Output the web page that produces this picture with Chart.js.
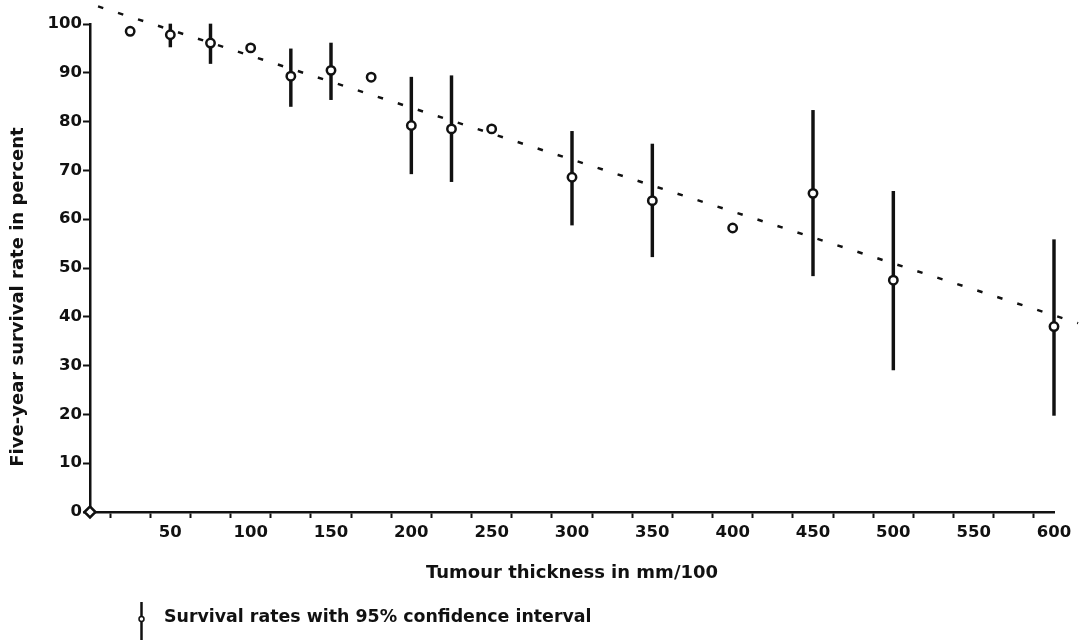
<!DOCTYPE html>
<html>
<head>
<meta charset="utf-8">
<script src="https://cdn.jsdelivr.net/npm/chart.js@4.4.0/dist/chart.umd.min.js"></script>
<style>
  html, body { margin: 0; padding: 0; background: #fff; }
</style>
</head>
<body>
<canvas id="survivalChart" width="1085" height="642"></canvas>
<script>
// values
const thickness = [0, 25, 50, 75, 100, 125, 150, 175, 200, 225, 250, 300, 350, 400, 450, 500, 600];
const survival = [0, 98.5, 97.8, 96.1, 95.1, 89.3, 90.5, 89.1, 79.2, 78.5, 78.5, 68.6, 63.8, 58.2, 65.3, 47.5, 38.0];
const ciLow = [null, null, 95.3, 91.9, null, 83.1, 84.5, null, 69.3, 67.7, null, 58.8, 52.3, null, 48.4, 29.1, 19.8];
const ciHigh = [null, null, 100.0, 100.0, null, 94.9, 96.1, null, 89.1, 89.4, null, 78.0, 75.4, null, 82.3, 65.7, 55.8];

// dashed regression line end points
const trendX = [5, 615];
const trendY = [103.6, 38.7];

const xLabelEvery = 50;
const xTitle = 'Tumour thickness in mm/100';
const yTitle = 'Five-year survival rate in percent';
const legendText = 'Survival rates with 95% confidence interval';

const ink = '#111';
const fontFamily = '"DejaVu Sans", sans-serif';

const pointData = thickness.map((x, i) => ({ x, y: survival[i] }));
const ciData = thickness
  .map((x, i) => ({ x, y: [ciLow[i], ciHigh[i]] }))
  .filter((item) => item.y[0] !== null);
const trendData = trendX.map((x, i) => ({ x, y: trendY[i] }));

// y-axis title and the legend below the axis
const extraText = {
  id: 'extraText',
  afterDraw(chart) {
    const ctx = chart.ctx;
    ctx.save();
    ctx.fillStyle = ink;
    ctx.font = 'bold 18px ' + fontFamily;
    ctx.textAlign = 'center';
    ctx.textBaseline = 'middle';
    ctx.translate(18, 297);
    ctx.rotate(-Math.PI / 2);
    ctx.fillText(yTitle, 0, 0);
    ctx.restore();

    ctx.save();
    ctx.strokeStyle = ink;
    ctx.lineWidth = 2.5;
    ctx.beginPath();
    ctx.moveTo(141.5, 602);
    ctx.lineTo(141.5, 640);
    ctx.stroke();
    ctx.fillStyle = '#fff';
    ctx.lineWidth = 1.5;
    ctx.beginPath();
    ctx.arc(141.5, 619, 2.5, 0, Math.PI * 2);
    ctx.fill();
    ctx.stroke();
    ctx.fillStyle = ink;
    ctx.font = 'bold 17.4px ' + fontFamily;
    ctx.textAlign = 'left';
    ctx.textBaseline = 'middle';
    ctx.fillText(legendText, 164, 617);
    ctx.restore();
  }
};

new Chart(document.getElementById('survivalChart'), {
  type: 'scatter',
  data: {
    datasets: [
      {
        type: 'scatter',
        data: pointData,
        pointStyle: (ctx) => (ctx.dataIndex === 0 ? 'rectRot' : 'circle'),
        pointRadius: (ctx) => (ctx.dataIndex === 0 ? 5.5 : 4.2),
        pointHoverRadius: 4,
        pointBorderWidth: 2.5,
        pointBackgroundColor: '#fff',
        pointBorderColor: ink,
        clip: false,
        order: 0
      },
      {
        type: 'line',
        data: trendData,
        borderColor: ink,
        borderWidth: 2.5,
        borderDash: [5.5, 15.5],
        pointRadius: 0,
        fill: false,
        clip: false,
        order: 1
      },
      {
        type: 'bar',
        data: ciData,
        backgroundColor: ink,
        borderWidth: 0,
        barThickness: 2.8,
        grouped: false,
        clip: false,
        order: 2
      }
    ]
  },
  options: {
    responsive: false,
    animation: false,
    layout: { padding: { top: 24, right: 31, left: 0, bottom: 0 } },
    plugins: {
      legend: { display: false },
      tooltip: { enabled: false }
    },
    scales: {
      x: {
        type: 'linear',
        min: 0,
        max: 600,
        offset: false,
        afterFit: (scale) => { scale.height = 130; },
        ticks: {
          stepSize: 25,
          autoSkip: false,
          maxRotation: 0,
          padding: 5,
          color: ink,
          font: { family: fontFamily, size: 16.5, weight: 'bold' },
          callback: (value) => (value !== 0 && value % xLabelEvery === 0 ? value : '')
        },
        grid: {
          drawOnChartArea: false,
          drawTicks: true,
          tickLength: 6,
          tickWidth: 2,
          tickColor: ink
        },
        border: { display: true, color: ink, width: 2.5 },
        title: {
          display: true,
          text: xTitle,
          color: ink,
          font: { family: fontFamily, size: 18, weight: 'bold' },
          padding: { top: 0, bottom: 58 }
        }
      },
      y: {
        min: 0,
        max: 100,
        afterFit: (scale) => { scale.width = 90; },
        ticks: {
          stepSize: 10,
          padding: 1,
          color: ink,
          font: { family: fontFamily, size: 16.5, weight: 'bold' }
        },
        grid: {
          drawOnChartArea: false,
          drawTicks: true,
          tickLength: 7,
          tickWidth: 2,
          tickColor: ink
        },
        border: { display: true, color: ink, width: 2.5 }
      }
    }
  },
  plugins: [extraText]
});
</script>
</body>
</html>
